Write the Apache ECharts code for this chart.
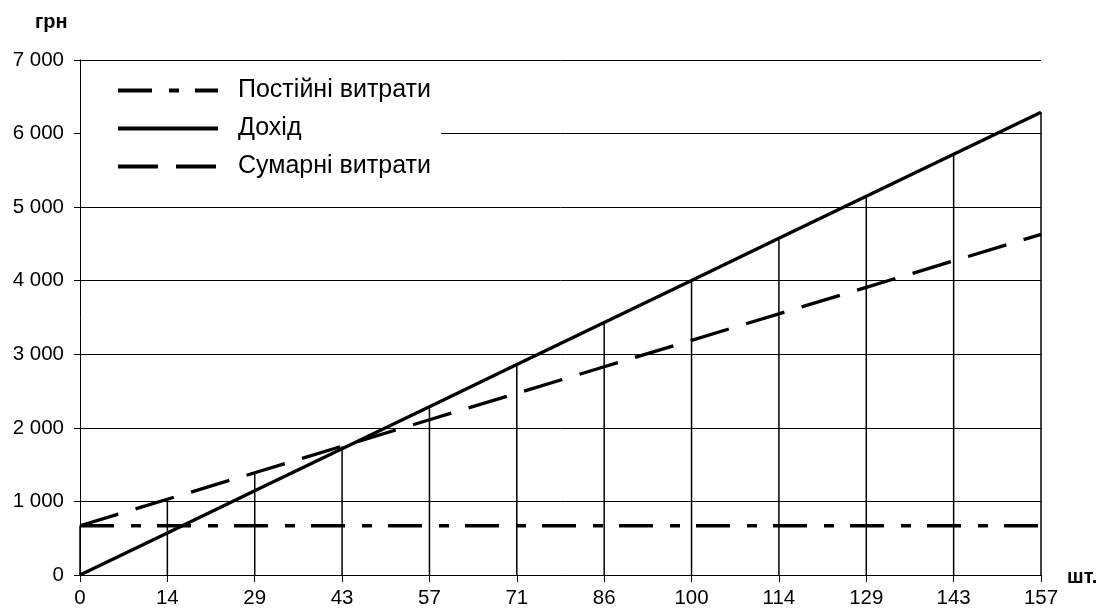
<!DOCTYPE html>
<html>
<head>
<meta charset="utf-8">
<script src="https://cdn.jsdelivr.net/npm/echarts@6/dist/echarts.min.js"></script>
<style>html,body{margin:0;padding:0;background:#fff}#c{width:1101px;height:612px}</style>
</head>
<body>
<div id="c"></div>
<script>
const categories = ['0','14','29','43','57','71','86','100','114','129','143','157'];
const fixedCosts = [670,670,670,670,670,670,670,670,670,670,670,670];
const revenue = [0,572,1144,1716,2288,2860,3432,4004,4576,5148,5720,6290];
const totalCosts = [670,1030,1390,1750,2110,2470,2830,3190,3550,3910,4270,4630];
const seriesNames = ['Постійні витрати','Дохід','Сумарні витрати'];
const yUnit = 'грн';
const xUnit = 'шт.';

const dropLines = categories.map((c,i)=>Math.max(revenue[i], totalCosts[i], fixedCosts[i]));
const FONT = '"Liberation Sans", Arial, sans-serif';

const chart = echarts.init(document.getElementById('c'));
chart.setOption({
  animation: false,
  backgroundColor: '#fff',
  textStyle: {fontFamily: FONT, color: '#000'},
  grid: {left: 80, right: 60, top: 60, bottom: 37, containLabel: false},
  legend: {
    data: seriesNames,
    orient: 'vertical',
    left: 81, top: 70,
    padding: [8, 10, 8, 35],
    backgroundColor: '#fff',
    itemWidth: 100, itemHeight: 14, itemGap: 13,
    itemStyle: {opacity: 0},
    lineStyle: {width: 4, type: 'inherit', color: '#000'},
    textStyle: {fontFamily: FONT, fontSize: 25, color: '#000', lineHeight: 25, padding: [0,0,0,15]},
    selectedMode: false
  },
  xAxis: {
    type: 'category', data: categories, boundaryGap: false,
    axisLine: {lineStyle: {color: '#000', width: 1}},
    axisTick: {show: true, length: 7, alignWithLabel: true, lineStyle: {color: '#000'}},
    axisLabel: {fontFamily: FONT, fontSize: 20.5, color: '#000', margin: 13, interval: 0},
    splitLine: {show: false}
  },
  yAxis: {
    type: 'value', min: 0, max: 7000, interval: 1000,
    axisLine: {show: true, lineStyle: {color: '#000', width: 1}},
    axisTick: {show: true, length: 6, lineStyle: {color: '#000'}},
    axisLabel: {fontFamily: FONT, fontSize: 20.5, color: '#000', margin: 16,
      formatter: v => String(v).replace(/\B(?=(\d{3})+(?!\d))/g, ' ')},
    splitLine: {show: true, lineStyle: {color: '#000', width: 1}}
  },
  graphic: [
    {type: 'text', left: 35, top: 12, style: {text: yUnit, fontFamily: FONT, fontSize: 20, fontWeight: 'bold', fill: '#000'}},
    {type: 'text', left: 1067, top: 567, style: {text: xUnit, fontFamily: FONT, fontSize: 20, fontWeight: 'bold', fill: '#000'}}
  ],
  series: [
    {type: 'bar', name: 'drop', data: dropLines, barWidth: 1.5, itemStyle: {color: '#000'}, silent: true, z: 1},
    {type: 'line', name: seriesNames[0], data: fixedCosts, symbol: 'none', z: 3,
      lineStyle: {color: '#000', width: 3.5, type: [34, 17, 10, 16]}, itemStyle: {color: '#000'}},
    {type: 'line', name: seriesNames[1], data: revenue, symbol: 'none', z: 3,
      lineStyle: {color: '#000', width: 3.3, type: 'solid'}, itemStyle: {color: '#000'}},
    {type: 'line', name: seriesNames[2], data: totalCosts, symbol: 'none', z: 3,
      lineStyle: {color: '#000', width: 3.3, type: [40, 18]}, itemStyle: {color: '#000'}}
  ]
});
</script>
</body>
</html>
